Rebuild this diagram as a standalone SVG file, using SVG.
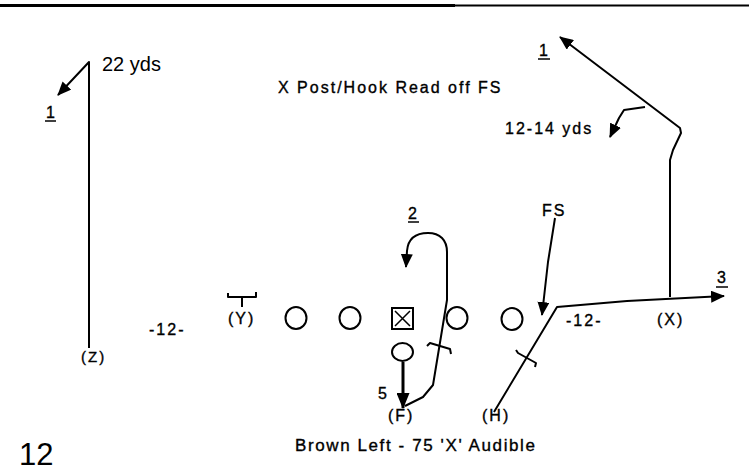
<svg xmlns="http://www.w3.org/2000/svg" width="749" height="471" viewBox="0 0 749 471">
<defs>
<marker id="arr" markerUnits="userSpaceOnUse" markerWidth="14" markerHeight="12" refX="13" refY="6" orient="auto">
<path d="M0,0 L14,6 L0,12 z" fill="#000"/>
</marker>
<marker id="arrBig" markerUnits="userSpaceOnUse" markerWidth="16" markerHeight="13" refX="15" refY="6.5" orient="auto">
<path d="M0,0 L16,6.5 L0,13 z" fill="#000"/>
</marker>
<style>
.t{font-family:"Liberation Sans",Arial,sans-serif;font-size:16px;fill:#000;stroke:#000;stroke-width:0.35px;letter-spacing:2px}
.big{font-family:"Liberation Sans",Arial,sans-serif;font-size:20px;fill:#000}
.r{fill:none;stroke:#000;stroke-width:2;stroke-linejoin:round}
.p{fill:#fff;stroke:#000;stroke-width:2}
.u{stroke:#000;stroke-width:1.5}
</style>
</defs>
<rect width="749" height="471" fill="#fff"/>
<line x1="0" y1="5.5" x2="455" y2="5.5" stroke="#000" stroke-width="3"/>
<line x1="455" y1="5.5" x2="749" y2="5.5" stroke="#000" stroke-width="2"/>

<g id="connectors">
<path id="route-z" class="r" d="M89,348 V62 L58,95" marker-end="url(#arr)"/>
<path id="route-x" class="r" d="M670,297 V160 L673,150 L681,133 L680,128 L560,37" marker-end="url(#arr)"/>
<path id="route-x-hook" class="r" d="M645,107 L624,110 L619,118 L610,137" marker-end="url(#arr)"/>
<path id="route-h" class="r" d="M494,412 L557,307 L627,301 L724,296" marker-end="url(#arr)"/>
<path id="block-h" class="r" d="M516,350 L518,353 L536,363 L535,367"/>
<path id="fs-arrow" class="r" d="M555,218 L548,262 L542,315" marker-end="url(#arr)"/>
<path id="route-f" class="r" d="M405,406 L423,397 L433,385 L447,300 V252 C447,240 440,233 428,233 C415,233 408,239 407,251 L406,267" marker-end="url(#arr)"/>
<path id="block-f" class="r" d="M427,346 L430,343 L450,349 L451,354"/>
<path id="qb-arrow" d="M403,362 V408" fill="none" stroke="#000" stroke-width="3" marker-end="url(#arrBig)"/>
</g>

<g id="player-z"><text class="t" x="81" y="362" style="font-size:15px">(Z)</text></g>
<g id="player-y">
<path class="r" d="M228,293 V297 H256 V292 M242,297 V307"/>
<text class="t" x="228" y="324">(Y)</text>
</g>
<g id="lt"><ellipse class="p" cx="296" cy="318" rx="10.5" ry="11"/></g>
<g id="lg"><ellipse class="p" cx="350" cy="318" rx="10.5" ry="11"/></g>
<g id="center">
<rect class="p" x="392" y="308" width="21" height="21"/>
<path d="M395,311 L410,326 M410,311 L395,326" stroke="#000" stroke-width="1.5"/>
</g>
<g id="rg"><ellipse class="p" cx="457" cy="318" rx="10.5" ry="11"/></g>
<g id="rt"><ellipse class="p" cx="512" cy="319" rx="10.5" ry="11"/></g>
<g id="qb"><ellipse class="p" cx="402.5" cy="352" rx="10.5" ry="9"/></g>
<g id="player-f"><text class="t" x="388" y="421">(F)</text></g>
<g id="player-h"><text class="t" x="482" y="421">(H)</text></g>
<g id="player-x"><text class="t" x="657" y="325">(X)</text></g>
<g id="fs"><text class="t" x="542" y="216">FS</text></g>

<g id="labels">
<text class="big" x="102" y="71">22 yds</text>
<text class="t" x="278" y="93">X Post/Hook Read off FS</text>
<text class="t" x="46" y="118">1</text><line class="u" x1="45" y1="121" x2="56" y2="121"/>
<text class="t" x="539" y="56">1</text><line class="u" x1="538" y1="59" x2="550" y2="59"/>
<text class="t" x="505" y="134">12-14 yds</text>
<text class="t" x="408" y="219">2</text><line class="u" x1="408" y1="222" x2="419" y2="222"/>
<text class="t" x="717" y="283">3</text><line class="u" x1="716" y1="287" x2="728" y2="287"/>
<text class="t" x="149" y="335">-12-</text>
<text class="t" x="566" y="326">-12-</text>
<text class="t" x="378" y="399">5</text>
<text class="t" x="295" y="451" style="font-size:17px;letter-spacing:1.6px">Brown Left - 75 'X' Audible</text>
<text x="19" y="465" style="font-family:'Liberation Sans',Arial,sans-serif;font-size:31px;fill:#000">12</text>
</g>
</svg>
